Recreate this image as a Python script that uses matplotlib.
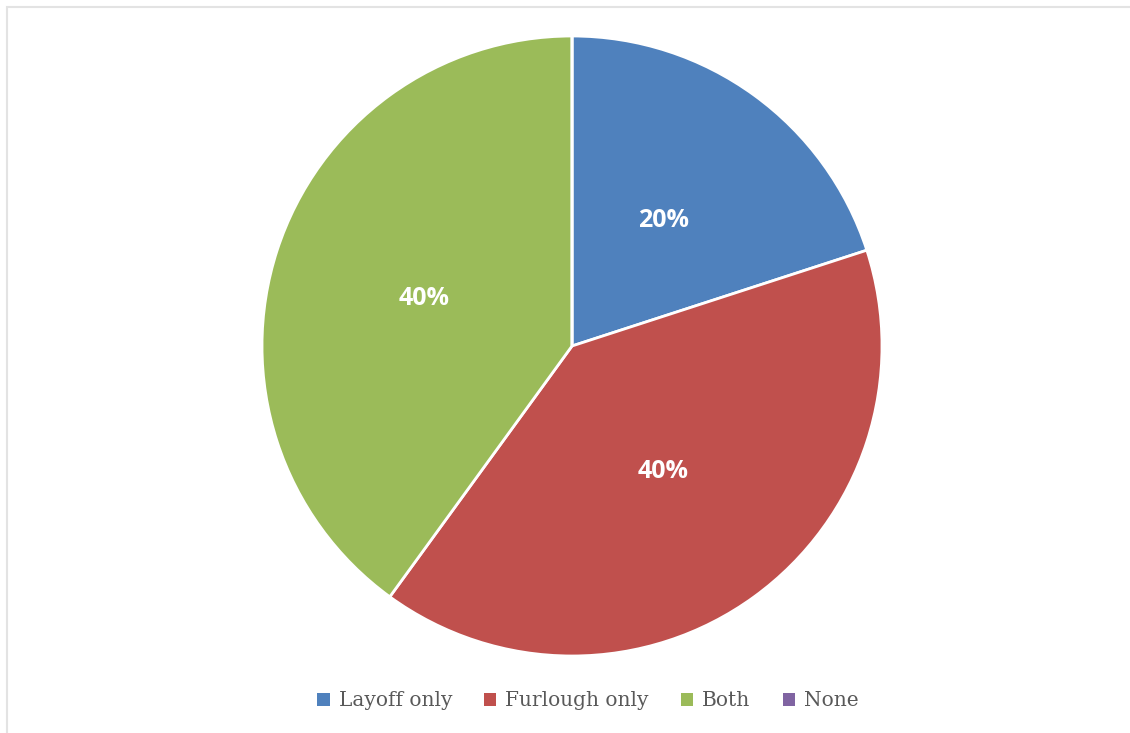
import matplotlib.pyplot as plt
from matplotlib.patches import Rectangle

labels = ['Layoff only', 'Furlough only', 'Both', 'None']
shares = [20, 40, 40, 0]
colors = ['#4F81BD', '#C0504D', '#9BBB59', '#8064A2']

fig = plt.figure(figsize=(11.3, 7.33), dpi=100)

# light chart frame
fig.patches.append(Rectangle((7 / 1130, -0.01), 1.1, 1 - 7 / 733 + 0.01,
                             transform=fig.transFigure, fill=False,
                             edgecolor='#e3e3e3', linewidth=1.5))

ax = fig.add_axes([(572 - 310) / 1130, (733 - 346 - 310) / 733, 620 / 1130, 620 / 733])

wedges, texts, autotexts = ax.pie(
    shares, colors=colors, startangle=90, counterclock=False,
    autopct=lambda p: f'{p:.0f}%' if p > 0 else '', pctdistance=0.5,
    wedgeprops=dict(edgecolor='white', linewidth=2),
    textprops=dict(color='white', fontsize=18, fontweight='bold', family='Open Sans'))
ax.set_xlim(-1, 1)
ax.set_ylim(-1, 1)
ax.set_aspect('equal')

leg = fig.legend(wedges, labels, loc='center', bbox_to_anchor=(588 / 1130, 1 - 701 / 733),
                 ncol=4, frameon=False, handlelength=0.6, handleheight=0.6,
                 handletextpad=0.45, columnspacing=1.6,
                 prop=dict(family='DejaVu Serif', size=14.5))
for t in leg.get_texts():
    t.set_color('#595959')
for h in leg.legend_handles:
    h.set_edgecolor('none')

fig.savefig('out.png', dpi=100)
